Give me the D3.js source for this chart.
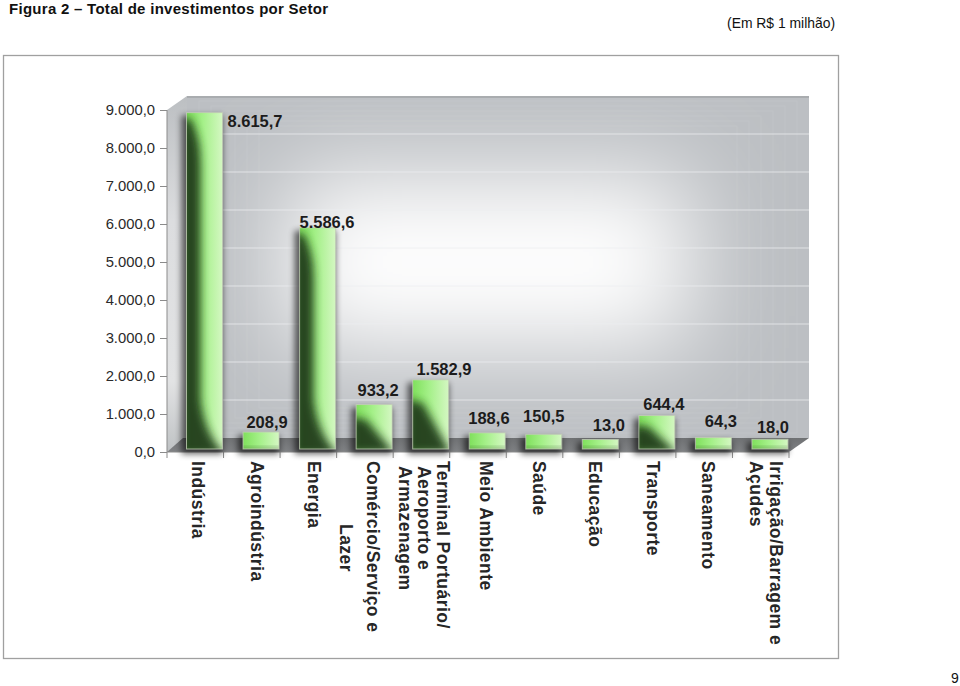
<!DOCTYPE html>
<html><head><meta charset="utf-8">
<script src="https://cdn.jsdelivr.net/npm/d3@7/dist/d3.min.js"></script>
<style>html,body{margin:0;padding:0;background:#fff}svg{display:block}text{font-family:"Liberation Sans",Arial,sans-serif}</style>
</head><body><svg id="c" width="960" height="686"></svg>
<script>
const categories = ["Indústria","Agroindústria","Energia","Comércio/Serviço e Lazer","Terminal Portuário/ Aeroporto e Armazenagem","Meio Ambiente","Saúde","Educação","Transporte","Saneamento","Irrigação/Barragem e Açudes"];
const values = [8615.7,208.9,5586.6,933.2,1582.9,188.6,150.5,13.0,644.4,64.3,18.0];
const valueLabels = ["8.615,7","208,9","5.586,6","933,2","1.582,9","188,6","150,5","13,0","644,4","64,3","18,0"];
const categoryLines = [["Indústria"],["Agroindústria"],["Energia"],["Comércio/Serviço e","Lazer"],["Terminal Portuário/","Aeroporto e","Armazenagem"],["Meio Ambiente"],["Saúde"],["Educação"],["Transporte"],["Saneamento"],["Irrigação/Barragem e","Açudes"]];
const yTicks = [0,1000,2000,3000,4000,5000,6000,7000,8000,9000];
const yTickLabels = ["0,0","1.000,0","2.000,0","3.000,0","4.000,0","5.000,0","6.000,0","7.000,0","8.000,0","9.000,0"];

const svg = d3.select("#c");
const x = d3.scaleBand().domain(categories).range([167,789]);
const y = d3.scaleLinear().domain([0,9000]).range([452,110]);
const depthX = 20, depthY = 14;
const defs = svg.append("defs");
const blur = (id,s)=>defs.append("filter").attr("id",id).attr("x","-60%").attr("y","-60%").attr("width","220%").attr("height","220%").append("feGaussianBlur").attr("stdDeviation",s);
blur("b45",48); blur("b3",3); blur("b5",4.5);
const lin=(id,x1,y1,x2,y2,stops)=>{const g=defs.append("linearGradient").attr("id",id).attr("x1",x1).attr("y1",y1).attr("x2",x2).attr("y2",y2);stops.forEach(s=>g.append("stop").attr("offset",s[0]).attr("stop-color",s[1]));};
lin("side",0,0,0,1,[[0,"#bcbfc2"],[.35,"#dcdddf"],[.8,"#e2e3e4"],[1,"#bfc2c4"]]);
lin("barLight",0,0,1,0,[[0,"#7fe05c"],[.45,"#a4f088"],[1,"#d4f7c2"]]);
lin("floor",0,0,0,1,[[0,"#6f7173"],[1,"#808285"]]);

// text header
svg.append("text").attr("x",9).attr("y",14).attr("font-size",15).attr("font-weight","bold").attr("letter-spacing",.28).attr("fill","#111").text("Figura 2 – Total de investimentos por Setor");
svg.append("text").attr("x",727).attr("y",28).attr("font-size",13.9).attr("fill","#111").text("(Em R$ 1 milhão)");
svg.append("text").attr("x",951).attr("y",683).attr("font-size",14).attr("fill","#111").text("9");
svg.append("rect").attr("x",3.5).attr("y",55.5).attr("width",835).attr("height",603).attr("fill","#fff").attr("stroke","#a0a0a0").attr("stroke-width",1.3);

// walls
const bx0 = x.range()[0]+depthX, bx1 = x.range()[1]+depthX, topB = y(9000)-depthY, botB = y(0)-depthY;
const clip = defs.append("clipPath").attr("id","wallClip");
clip.append("rect").attr("x",bx0).attr("y",topB).attr("width",bx1-bx0).attr("height",botB-topB);
svg.append("rect").attr("x",bx0).attr("y",topB).attr("width",bx1-bx0).attr("height",botB-topB).attr("fill","#bcbfc3");
const wg = svg.append("g").attr("clip-path","url(#wallClip)");
wg.append("rect").attr("x",bx0+100).attr("y",topB+80).attr("width",bx1-bx0-220).attr("height",botB-topB-170).attr("fill","#fff").attr("filter","url(#b45)");
// faint nested bands of the wall shading
wg.selectAll("rect.band").data(d3.range(1,7)).join("rect").attr("class","band")
  .attr("x",d=>bx0+d*12).attr("y",d=>topB+d*5).attr("width",d=>bx1-bx0-d*24).attr("height",d=>botB-topB-d*10)
  .attr("fill","none").attr("stroke","#fff").attr("stroke-opacity",.07);
wg.selectAll("line.grid").data(yTicks.slice(1,-1)).join("line").attr("x1",bx0).attr("x2",bx1).attr("y1",d=>y(d)-depthY).attr("y2",d=>y(d)-depthY).attr("stroke","#eceef0").attr("stroke-opacity",.75).attr("stroke-width",1);
wg.append("rect").attr("x",bx0).attr("y",topB).attr("width",bx1-bx0).attr("height",2).attr("fill","#a9acaf");
const path=(pts)=>"M"+pts.map(p=>p.join(",")).join("L")+"Z";
svg.append("path").attr("d",path([[x.range()[0],y(9000)],[bx0,topB],[bx0,botB],[x.range()[0],y(0)]])).attr("fill","url(#side)");
svg.append("path").attr("d",path([[x.range()[0],y(0)],[bx0-4,botB],[bx1,botB],[x.range()[1],y(0)]])).attr("fill","url(#floor)");

// axes
const axL = d3.axisLeft(y).tickValues(yTicks).tickFormat((d,i)=>yTickLabels[i]).tickSize(7).tickPadding(5);
const gL = svg.append("g").attr("transform","translate(167,0)").call(axL);
gL.select(".domain").attr("stroke","#8b8b8b").attr("d","M0,110V452");
gL.selectAll("line").attr("stroke","#8b8b8b");
gL.selectAll("text").attr("font-size",14.8).attr("fill","#2a2a2a").attr("font-family",'"Liberation Sans",Arial,sans-serif');
const axB = d3.axisBottom(x).tickSize(6).tickFormat("");
const gB = svg.append("g").attr("transform","translate(0,452)").call(axB);
gB.select(".domain").attr("stroke","#8b8b8b").attr("d","M167,0H789");
gB.selectAll(".tick line").attr("stroke","#8b8b8b").attr("transform",`translate(${-x.step()/2},0)`);
svg.append("line").attr("x1",789).attr("x2",789).attr("y1",452).attr("y2",458).attr("stroke","#8b8b8b");

// bars
const barW = 36, barDx = 19.5;
const barTop = d=>y(d)-depthY+2;
const barBot = y(0)-3;
const bars = svg.append("g").selectAll("g").data(categories.map((c,i)=>({c,v:values[i],i}))).join("g");
bars.each(function(d){
  const g=d3.select(this), bx=x(d.c)+barDx, tp=barTop(d.v), h=barBot-tp;
  g.append("rect").attr("x",bx-5).attr("y",tp+3).attr("width",barW+5).attr("height",h+2).attr("fill","#000").attr("opacity",.6).attr("filter","url(#b3)");
  const id="clip"+d.i;
  defs.append("clipPath").attr("id",id).append("rect").attr("x",bx).attr("y",tp).attr("width",barW).attr("height",h);
  const b=g.append("g").attr("clip-path",`url(#${id})`);
  b.append("rect").attr("x",bx).attr("y",tp).attr("width",barW).attr("height",h).attr("fill","url(#barLight)");
  let p;
  if(h>150){ // tall bars: dark column to the left, flaring at foot
    p=`M${bx-6},${tp+6}L${bx+4},${tp+6}Q${bx+14},${tp+25} ${bx+14},${tp+50}L${bx+14},${tp+h-50}Q${bx+18},${tp+h-14} ${bx+barW+3},${tp+h+6}L${bx-6},${tp+h+6}Z`;
  } else if(h>30){ // mid bars: diagonal shade
    p=`M${bx-6},${tp+h*.28}L${bx+barW*.28},${tp+h*.34}L${bx+barW+2},${tp+h+4}L${bx-6},${tp+h+4}Z`;
  } else { // short bars: only a soft darker foot
    p=`M${bx-4},${tp+h-1}L${bx+barW+4},${tp+h-1}L${bx+barW+4},${tp+h+4}L${bx-4},${tp+h+4}Z`;
  }
  b.append("path").attr("d",p).attr("fill","#223d1b").attr("opacity",h>30?.95:.4).attr("filter",h>30?"url(#b5)":"url(#b3)");
  g.append("rect").attr("x",bx).attr("y",tp).attr("width",barW).attr("height",h).attr("fill","none").attr("stroke","#c3cfb6").attr("stroke-width",1).attr("opacity",.8);
});

// value labels beside the bars
const labelShift=[[50.5,14],[6,-4.5],[9.4,0],[4,-9],[13.3,-4.5],[1.7,-9],[0,-12],[8.6,-9],[7,-6],[7.5,-11],[3,-6]];
svg.append("g").selectAll("text").data(valueLabels).join("text")
  .attr("x",(d,i)=>x(categories[i])+barDx+barW/2+labelShift[i][0])
  .attr("y",(d,i)=>barTop(values[i])+labelShift[i][1])
  .attr("text-anchor","middle").attr("font-size",16.5).attr("font-weight","bold").attr("fill","#1c1c1c").text(d=>d);

// rotated category labels
const labelBase=[[192],[251],[308],[367,340],[437,418,399],[480],[533],[589],[647],[702],[770,750]];
const labelStart=[[461],[461],[461],[461,524],[461,466,466],[461],[461],[461],[461],[461],[461,461]];
const catG=svg.append("g");
categoryLines.forEach((lines,i)=>{
  lines.forEach((t,j)=>{
    catG.append("text").attr("transform",`translate(${labelBase[i][j]},${labelStart[i][j]}) rotate(90)`).attr("font-size",17.5).attr("font-weight","bold").attr("fill","#262626").attr("letter-spacing",.45).text(t);
  });
});
</script></body></html>
